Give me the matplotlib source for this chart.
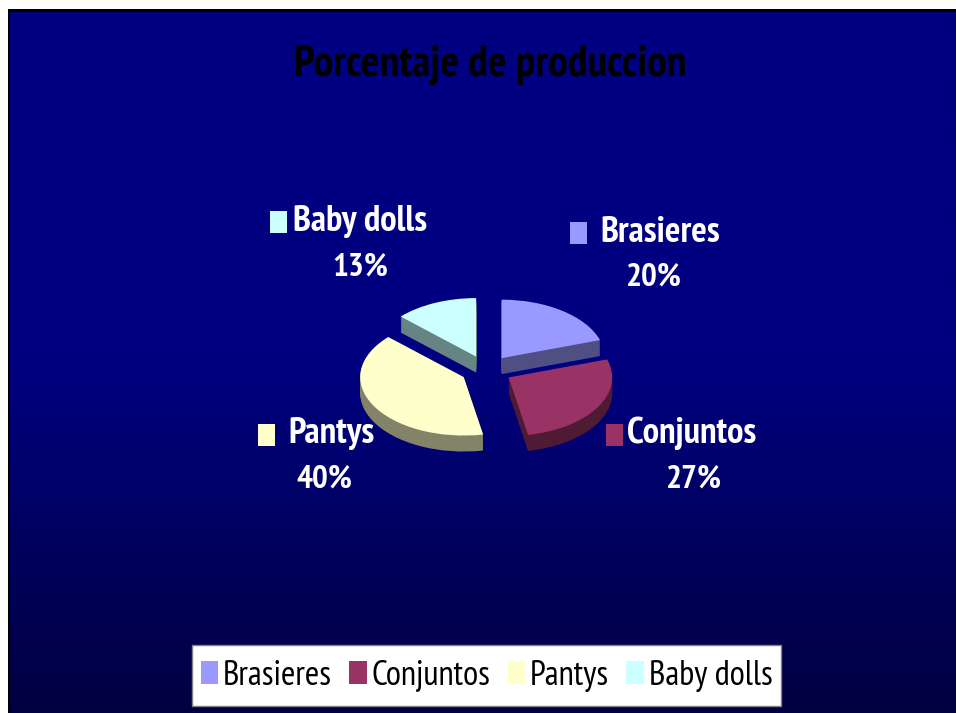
import numpy as np
import matplotlib
matplotlib.use("Agg")
import matplotlib.pyplot as plt
from matplotlib.patches import Rectangle
from matplotlib.colors import LinearSegmentedColormap

categories = ["Brasieres", "Conjuntos", "Pantys", "Baby dolls"]
values = [20, 27, 40, 13]
top_colors = ["#9999FF", "#993366", "#FFFFCC", "#CCFFFF"]
side_colors = ["#4F4F84", "#4E1A34", "#83836A", "#678484"]
title = "Porcentaje de produccion"

W, H = 956, 713
plt.rcParams['font.family'] = ['PT Sans Narrow', 'Archivo Narrow', 'Liberation Sans', 'DejaVu Sans']
fig = plt.figure(figsize=(W / 100, H / 100), dpi=100, facecolor="white")

bg = fig.add_axes([0, 0, 1, 1])
cmap = LinearSegmentedColormap.from_list("bg", ["#000080", "#000080", "#000040"])
grad = np.linspace(0, 1, 256).reshape(-1, 1)
bg.imshow(grad, cmap=cmap, extent=(9, W, H, 11), aspect="auto", zorder=0)
bg.set_xlim(0, W); bg.set_ylim(H, 0); bg.axis("off")
bg.add_patch(Rectangle((8, 9), W, 3, fc="black", ec="none", zorder=1))
bg.add_patch(Rectangle((8, 9), 2, H, fc="black", ec="none", zorder=1))
bg.add_patch(Rectangle((192, 645), 589, 61, fc="white", ec="#808080", lw=1, zorder=2))

bg.text(490, 65, title, ha="center", va="center", fontsize=31.7, fontweight="bold", color="black", zorder=3)

label_layout = [
    (570, 222, 660, 232, 654, 278),
    (606, 424, 692, 433, 694, 479),
    (258, 424, 332, 433, 324, 479),
    (270, 211, 360, 221, 360, 268),
]
for cat, v, col, (sx, sy, nx, ny, px, py) in zip(categories, values, top_colors, label_layout):
    bg.add_patch(Rectangle((sx, sy), 17, 22, fc=col, ec="none", zorder=3))
    bg.text(nx, ny, cat, ha="center", va="center", fontsize=26.4, fontweight="bold", color="white", zorder=3)
    bg.text(px, py, f"{v}%", ha="center", va="center", fontsize=24, fontweight="bold", color="white", zorder=3)

rx, ry, cx, cy, depth = 103.5, 58.5, 486.4, 370.0, 16
pie_ax = fig.add_axes([0, 0, 1, 1], facecolor="none")
explode = [0.25] * len(values)
for k in range(depth, 0, -1):
    pie_ax.pie(values, colors=side_colors, explode=explode, startangle=90, counterclock=False,
               center=(0, -k / ry), radius=1, wedgeprops=dict(linewidth=0))
wedges, _ = pie_ax.pie(values, colors=top_colors, explode=explode, startangle=90, counterclock=False,
                       center=(0, 0), radius=1, wedgeprops=dict(linewidth=0))
pie_ax.set_aspect("auto")
pie_ax.set_xlim(-cx / rx, (W - cx) / rx)
pie_ax.set_ylim(-(H - cy) / ry, cy / ry)
pie_ax.axis("off")

leg = pie_ax.legend(wedges, categories, ncol=4, loc="center",
                    bbox_to_anchor=(486.5 / W, 1 - 676 / H), bbox_transform=fig.transFigure,
                    fontsize=25, frameon=False,
                    handlelength=0.5, handleheight=0.64, handletextpad=0.14,
                    columnspacing=0.5, borderpad=0.3, borderaxespad=0, labelcolor="black")

fig.savefig("out.png", dpi=100)
